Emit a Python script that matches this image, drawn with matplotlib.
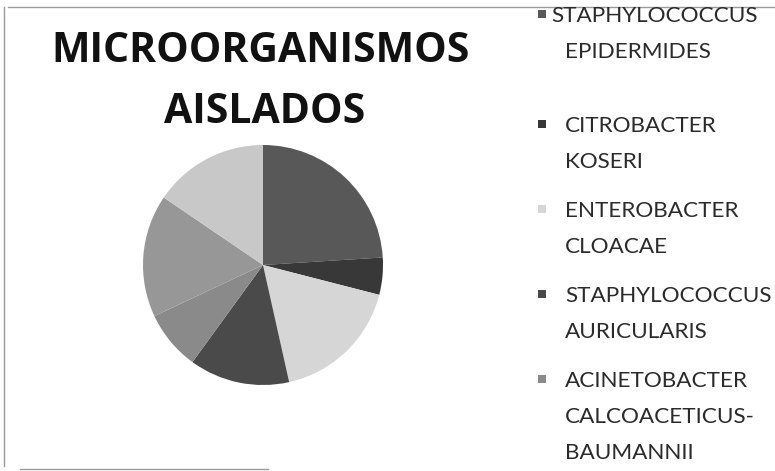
import matplotlib
matplotlib.use("Agg")
import matplotlib.pyplot as plt
from matplotlib.lines import Line2D
from matplotlib.patches import Rectangle

# Data
categories = [
    "STAPHYLOCOCCUS\nEPIDERMIDES",
    "CITROBACTER\nKOSERI",
    "ENTEROBACTER\nCLOACAE",
    "STAPHYLOCOCCUS\nAURICULARIS",
    "ACINETOBACTER\nCALCOACETICUS-\nBAUMANNII",
    "OTRO 1",
    "OTRO 2",
]
values = [24, 5, 17.5, 13.5, 8, 16.5, 15.5]
slice_colors = ["#585858", "#383838", "#d6d6d6", "#4a4a4a", "#8a8a8a", "#979797", "#c8c8c8"]
legend_count = 5
title_lines = ["MICROORGANISMOS", "AISLADOS"]

W, H = 775, 471
fig = plt.figure(figsize=(W / 100, H / 100), dpi=100)
fig.patch.set_facecolor("white")

def fx(px):
    return px / W

def fy(py):
    return 1 - py / H

# pie
cx, cy, r = 263, 265, 120
ax = fig.add_axes([fx(cx - r), fy(cy + r), 2 * r / W, 2 * r / H])
ax.pie(values, colors=slice_colors, startangle=90, counterclock=False,
       wedgeprops=dict(linewidth=0))
ax.set_xlim(-1, 1)
ax.set_ylim(-1, 1)
ax.set_aspect("auto")
ax.axis("off")

# title
fig.text(fx(261), fy(62), title_lines[0], ha="center", va="baseline",
         fontsize=29.5, fontweight="bold", family="Open Sans", color="#111111")
fig.text(fx(265), fy(123), title_lines[1], ha="center", va="baseline",
         fontsize=29.5, fontweight="bold", family="Open Sans", color="#111111")

# legend (manual, first line aligned with marker)
entry_top = [14, 124, 209, 294, 379]
line_pitch = 36
for i in range(legend_count):
    lines = categories[i].split("\n")
    y0 = entry_top[i]
    x_text = 551 if i == 0 else 565
    for j, ln in enumerate(lines):
        xt = x_text if j == 0 else 565
        fig.text(fx(xt), fy(y0 + j * line_pitch + 8), ln, ha="left", va="baseline",
                 fontsize=16.2, family="Lato", color="#2a2a2a")
    s = 8
    fig.patches.append(Rectangle((fx(538), fy(y0 + s / 2)), s / W, s / H,
                                 transform=fig.transFigure, facecolor=slice_colors[i],
                                 edgecolor="none"))

# borders
fig.add_artist(Line2D([fx(8), fx(775)], [fy(7), fy(7)], color="#9a9a9a", lw=1))
fig.add_artist(Line2D([fx(4), fx(4)], [fy(7), fy(466)], color="#9a9a9a", lw=1))
fig.add_artist(Line2D([fx(20), fx(268)], [fy(469), fy(469)], color="#9a9a9a", lw=1))

fig.savefig("out.png", dpi=100)
